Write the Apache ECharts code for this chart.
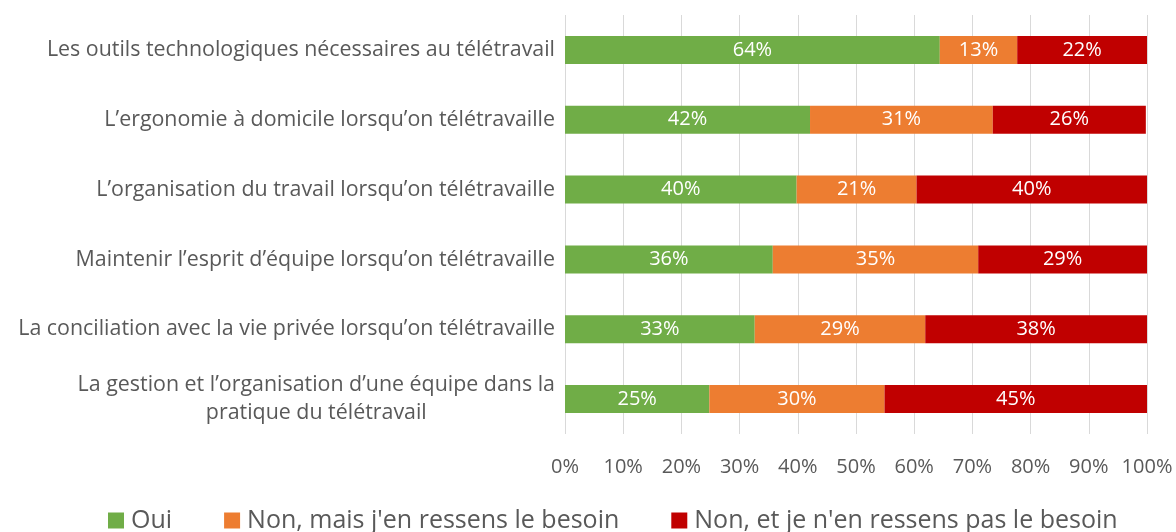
<!DOCTYPE html>
<html>
<head>
<meta charset="utf-8">
<script src="https://cdn.jsdelivr.net/npm/echarts@6/dist/echarts.min.js"></script>
<style>
html,body{margin:0;padding:0;background:#fff;}
#chart{width:1176px;height:532px;}
</style>
</head>
<body>
<div id="chart"></div>
<script>
const categories = [
  "Les outils technologiques nécessaires au télétravail",
  "L’ergonomie à domicile lorsqu’on télétravaille",
  "L’organisation du travail lorsqu’on télétravaille",
  "Maintenir l’esprit d’équipe lorsqu’on télétravaille",
  "La conciliation avec la vie privée lorsqu’on télétravaille",
  "La gestion et l’organisation d’une équipe dans la\npratique du télétravail"
];
const seriesNames = ["Oui", "Non, mais j'en ressens le besoin", "Non, et je n'en ressens pas le besoin"];
const oui = [64.4, 42.1, 39.8, 35.7, 32.6, 24.8];
const nonBesoin = [13.3, 31.4, 20.6, 35.3, 29.3, 30.1];
const nonPasBesoin = [22.3, 26.3, 39.6, 29.0, 38.1, 45.1];
const xTicks = ["0%","10%","20%","30%","40%","50%","60%","70%","80%","90%","100%"];
const colors = ["#70AD47", "#ED7D31", "#C00000"];

const FONT = "Open Sans";
const chart = echarts.init(document.getElementById('chart'));
const mk = (name, data, color) => ({
  name, type: 'bar', stack: 'total', data, barWidth: 28,
  itemStyle: { color },
  label: {
    show: true, position: 'inside', color: '#fff', fontFamily: FONT, fontSize: 20,
    formatter: p => Math.round(p.value) + '%'
  }
});
chart.setOption({
  animation: false,
  textStyle: { fontFamily: FONT },
  grid: { left: 565, right: 29, top: 15, bottom: 98, containLabel: false },
  xAxis: {
    type: 'value', min: 0, max: 100, interval: 10,
    axisLine: { show: false }, axisTick: { show: false },
    splitLine: { lineStyle: { color: '#D9D9D9', width: 1 } },
    axisLabel: {
      color: '#595959', fontFamily: FONT, fontSize: 20, margin: 23,
      formatter: v => xTicks[Math.round(v / 10)]
    }
  },
  yAxis: {
    type: 'category', data: categories, inverse: true,
    axisLine: { show: false }, axisTick: { show: false },
    axisLabel: {
      color: '#595959', fontFamily: FONT, fontSize: 21.4, margin: 10, lineHeight: 28,
      formatter: v => v.indexOf('\n') >= 0 ? v.split('\n').map(s => '{c|' + s + '}').join('\n') : v,
      rich: { c: { align: 'center', color: '#595959', fontFamily: FONT, fontSize: 21.4, lineHeight: 28 } }
    }
  },
  legend: {
    top: 508, left: 108, padding: 0, itemWidth: 16, itemHeight: 16, itemGap: 52, icon: 'rect',
    textStyle: { color: '#595959', fontFamily: FONT, fontSize: 25, padding: [0, 0, 0, 2] },
    data: seriesNames
  },
  series: [
    mk(seriesNames[0], oui, colors[0]),
    mk(seriesNames[1], nonBesoin, colors[1]),
    mk(seriesNames[2], nonPasBesoin, colors[2])
  ]
});
</script>
</body>
</html>
